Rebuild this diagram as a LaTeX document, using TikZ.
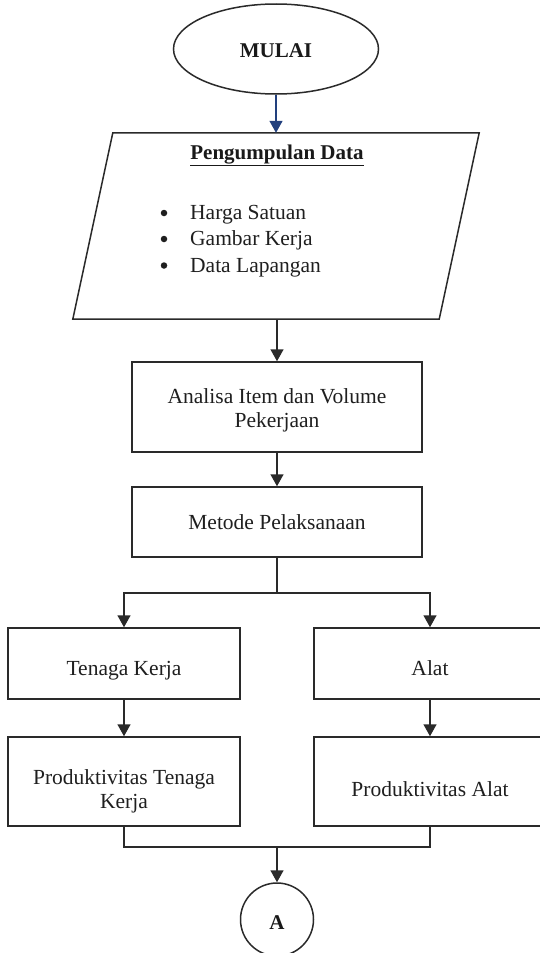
\documentclass[tikz,border=0pt]{standalone}
\usepackage{fontspec}
\setmainfont{Liberation Serif}
\usetikzlibrary{arrows.meta,shapes.geometric}
\definecolor{linec}{HTML}{2A2A2A}
\definecolor{bluec}{HTML}{22407E}
\tikzset{
  box/.style={draw=linec, line width=1.5pt, fill=white, minimum width=#1, inner sep=0pt},
  arr/.style={draw=linec, line width=1.5pt, -{Triangle[width=13pt,length=12pt]}},
  ln/.style={draw=linec, line width=1.5pt},
  txt/.style={font=\fontsize{21.5}{24}\selectfont, inner sep=0pt, anchor=base, text=black!88},
  btxt/.style={font=\fontsize{21}{24}\selectfont\bfseries, inner sep=0pt, anchor=base, text=black!90},
  bul/.style={circle, fill=black!88, minimum size=6.5pt, inner sep=0pt},
}
\begin{document}
\begin{tikzpicture}[x=1pt,y=-1pt]
\useasboundingbox (0,0) rectangle (539,953);
% start
\node[draw=linec, line width=1.5pt, ellipse, minimum width=205pt, minimum height=90pt, inner sep=0pt] (mulai) at (276,49) {};
\node[btxt] (mulait) at (276,57.5) {MULAI};
% data collection parallelogram
\node[minimum width=366pt, minimum height=186pt, inner sep=0pt] (par) at (276,226) {};
\draw[ln, fill=white] ([xshift=20pt]par.north west) -- ([xshift=20pt]par.north east) -- ([xshift=-20pt]par.south east) -- ([xshift=-20pt]par.south west) -- cycle;
\node[btxt] (ptitle) at (277,159.5) {\underline{Pengumpulan Data}};
\node[bul] (b1) at (164,213) {};
\node[bul] (b2) at (164,239) {};
\node[bul] (b3) at (164,265.5) {};
\node[txt, anchor=base west] (t1) at (190,219.5) {Harga Satuan};
\node[txt, anchor=base west] (t2) at (190,245.5) {Gambar Kerja};
\node[txt, anchor=base west] (t3) at (190,272) {Data Lapangan};
% boxes
\node[box=290pt, minimum height=90pt] (ana) at (277,407) {};
\node[txt] (ana1) at (277,403.5) {Analisa Item dan Volume};
\node[txt] (ana2) at (277,427) {Pekerjaan};
\node[box=290pt, minimum height=70pt] (met) at (277,522) {};
\node[txt] (met1) at (277,529.5) {Metode Pelaksanaan};
\node[box=232pt, minimum height=71pt] (tk) at (124,663.5) {};
\node[txt] (tk1) at (124,675.5) {Tenaga Kerja};
\node[box=232pt, minimum height=71pt] (al) at (430,663.5) {};
\node[txt] (al1) at (430,675.5) {Alat};
\node[box=232pt, minimum height=89pt] (ptk) at (124,781.5) {};
\node[txt] (ptk1) at (124,784) {Produktivitas Tenaga};
\node[txt] (ptk2) at (124,808) {Kerja};
\node[box=232pt, minimum height=89pt] (pal) at (430,781.5) {};
\node[txt] (pal1) at (430,796) {Produktivitas Alat};
\node[draw=linec, line width=1.5pt, circle, minimum size=73pt, inner sep=0pt] (A) at (277,919.5) {};
\node[btxt] (At) at (277,929.5) {A};
% connectors
\draw[draw=bluec, line width=1.5pt, -{Triangle[width=13pt,length=12pt]}, fill=bluec] (mulai) -- (par);
\draw[arr] ([xshift=1pt]par.south) -- (ana);
\draw[arr] (ana) -- (met);
\coordinate (br) at (277,593);
\draw[ln] (met) -- (br);
\draw[arr] (br) -| (tk);
\draw[arr] (br) -| (al);
\draw[arr] (tk) -- (ptk);
\draw[arr] (al) -- (pal);
\coordinate (mg) at (277,847);
\draw[ln] (ptk.south) |- (mg) -| (pal.south);
\draw[arr] (mg) -- (A);
\end{tikzpicture}
\end{document}
